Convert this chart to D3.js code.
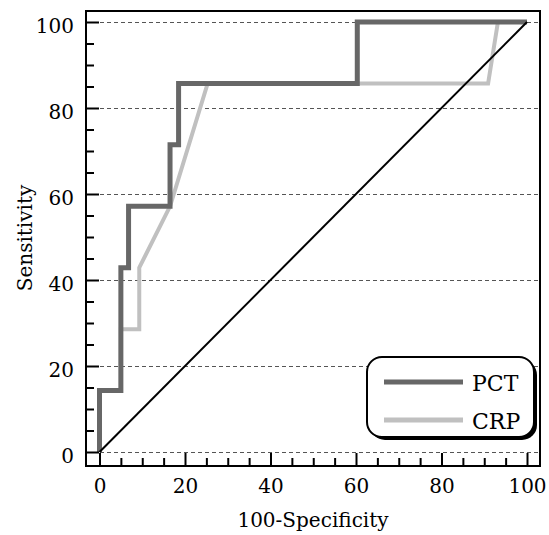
<!DOCTYPE html>
<html>
<head>
<meta charset="utf-8">
<script src="https://cdn.jsdelivr.net/npm/d3@7"></script>
<style>
  body { margin: 0; background: #fff; }
  text { font-family: "DejaVu Serif", serif; fill: #000; }
</style>
</head>
<body>
<svg id="chart" width="549" height="535"></svg>
<script>
/*    ========    DATA    =========    */

var pctX = [0, 0, 5, 5, 6.8, 6.8, 16.5, 16.5, 18.5, 18.5, 60.3, 60.3, 100];
var pctY = [0, 14.29, 14.29, 42.86, 42.86, 57.14, 57.14, 71.43, 71.43, 85.71, 85.71, 100, 100];

var crpX = [0, 0, 5, 5, 9.3, 9.3, 16.5, 25.3, 90.9, 93.2, 100];
var crpY = [0, 14.29, 14.29, 28.57, 28.57, 42.86, 57.14, 85.71, 85.71, 100, 100];

var refX = [0, 100];
var refY = [0, 100];

var majorTicks = [0, 20, 40, 60, 80, 100];
var minorTicks = [5, 10, 15, 25, 30, 35, 45, 50, 55, 65, 70, 75, 85, 90, 95];

var seriesNames = ["PCT", "CRP"];
var seriesColors = ["#676767", "#c0c0c0"];

/*    ========    SETTINGS    =========    */

var svg = d3.select('#chart');

var frame = { left: 86, top: 11, right: 540, bottom: 466 };

var xscale = d3.scaleLinear().domain([0, 100]).range([99.5, 527]);
var yscale = d3.scaleLinear().domain([0, 100]).range([452, 22]);

function zip(xs, ys) {
    return xs.map(function(d, i) { return [d, ys[i]]; });
}

var line = d3.line()
    .x(function(d) { return xscale(d[0]); })
    .y(function(d) { return yscale(d[1]); });

/*    ========    GRID    =========    */

svg.append("g")
    .selectAll("line")
    .data(majorTicks)
    .enter().append("line")
    .attr("x1", frame.left)
    .attr("x2", frame.right)
    .attr("y1", function(d) { return Math.round(yscale(d)) + 0.5; })
    .attr("y2", function(d) { return Math.round(yscale(d)) + 0.5; })
    .attr("stroke", "#555")
    .attr("stroke-width", 1)
    .attr("stroke-dasharray", "4,3");

/*    ========    CURVES    =========    */

svg.append("path")
    .datum(zip(crpX, crpY))
    .attr("d", line)
    .attr("fill", "none")
    .attr("stroke", seriesColors[1])
    .attr("stroke-width", 4)
    .attr("stroke-linejoin", "miter");

svg.append("path")
    .datum(zip(pctX, pctY))
    .attr("d", line)
    .attr("fill", "none")
    .attr("stroke", seriesColors[0])
    .attr("stroke-width", 5)
    .attr("stroke-linejoin", "miter");

svg.append("path")
    .datum(zip(refX, refY))
    .attr("d", line)
    .attr("fill", "none")
    .attr("stroke", "#000")
    .attr("stroke-width", 2);

/*    ========    AXES    =========    */

var xAxis = d3.axisBottom(xscale).tickValues(majorTicks).tickSize(-13).tickPadding(13);
var xMinor = d3.axisBottom(xscale).tickValues(minorTicks).tickSize(-8).tickFormat("");
var yAxis = d3.axisLeft(yscale).tickValues(majorTicks).tickSize(-13).tickPadding(12);
var yMinor = d3.axisLeft(yscale).tickValues(minorTicks).tickSize(-8).tickFormat("");

function styleAxis(g) {
    g.select(".domain").remove();
    g.selectAll("line").attr("stroke", "#000").attr("stroke-width", 2);
    g.selectAll("text").style("font-family", "DejaVu Serif").style("font-size", "20px").attr("fill", "#000");
}

svg.append("g").attr("transform", "translate(0," + frame.bottom + ")").call(xAxis).call(styleAxis);
svg.append("g").attr("transform", "translate(0," + frame.bottom + ")").call(xMinor).call(styleAxis);
svg.append("g").attr("transform", "translate(" + frame.left + ",0)").call(yAxis).call(styleAxis)
    .selectAll("text").attr("dy", "0.5em");
svg.append("g").attr("transform", "translate(" + frame.left + ",0)").call(yMinor).call(styleAxis);

// frame
svg.append("rect")
    .attr("x", frame.left)
    .attr("y", frame.top)
    .attr("width", frame.right - frame.left)
    .attr("height", frame.bottom - frame.top)
    .attr("fill", "none")
    .attr("stroke", "#000")
    .attr("stroke-width", 2);

// axis titles
svg.append("text")
    .attr("x", (frame.left + frame.right) / 2)
    .attr("y", 527)
    .attr("text-anchor", "middle")
    .style("font-size", "20px")
    .text("100-Specificity");

svg.append("text")
    .attr("transform", "translate(32," + (xscale(0) + 0) * 0 + 238 + ") rotate(-90)")
    .attr("text-anchor", "middle")
    .style("font-size", "20px")
    .text("Sensitivity");

/*    ========    LEGEND    =========    */

var legend = svg.append("g").attr("transform", "translate(367,357)");

legend.append("rect")
    .attr("x", 3).attr("y", 3)
    .attr("width", 167).attr("height", 80)
    .attr("rx", 15)
    .attr("fill", "#000");

legend.append("rect")
    .attr("width", 167).attr("height", 80)
    .attr("rx", 15)
    .attr("fill", "#fff")
    .attr("stroke", "#000")
    .attr("stroke-width", 2);

var items = legend.selectAll("g.item")
    .data(seriesNames)
    .enter().append("g")
    .attr("class", "item")
    .attr("transform", function(d, i) { return "translate(0," + (25 + i * 38) + ")"; });

items.append("line")
    .attr("x1", 17).attr("x2", 96)
    .attr("stroke", function(d, i) { return seriesColors[i]; })
    .attr("stroke-width", 5);

items.append("text")
    .attr("x", 105)
    .attr("y", 9)
    .style("font-size", "22px")
    .text(function(d) { return d; });
</script>
</body>
</html>
